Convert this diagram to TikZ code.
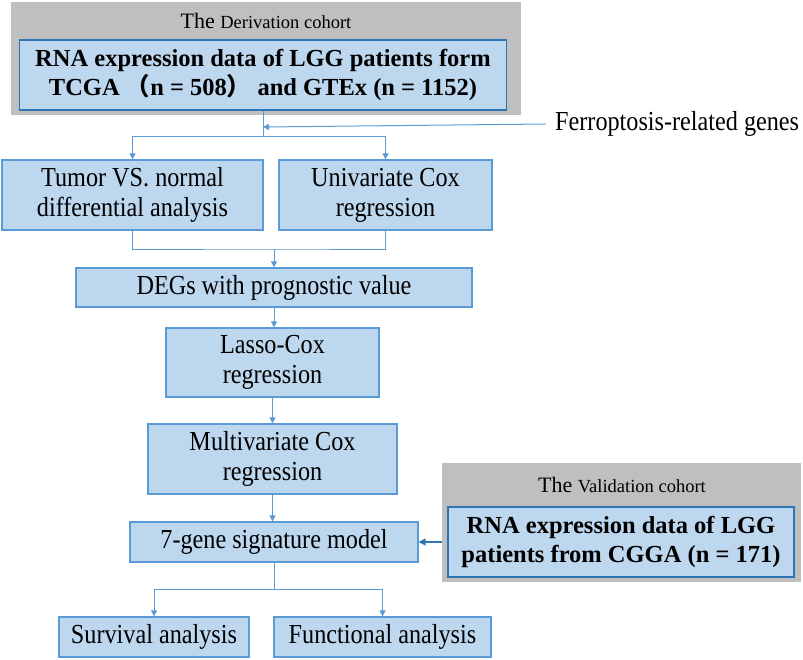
\documentclass[tikz,border=0pt]{standalone}
\usepackage{fontspec}
\setmainfont{Liberation Serif}
\newfontfamily\bodyfont{Liberation Serif}[FakeStretch=0.88]
\newfontfamily\cjk{Noto Sans CJK SC}
\usetikzlibrary{arrows.meta}
\definecolor{boxfill}{HTML}{BDD7EE}
\definecolor{boxline}{HTML}{5B9BD5}
\definecolor{darkline}{HTML}{2E75B6}
\definecolor{grayfill}{HTML}{BFBFBF}
\begin{document}
\begin{tikzpicture}[x=1pt,y=-1pt,
  box/.style={draw=boxline, line width=1.3pt, fill=boxfill, inner sep=0pt, align=center,
    font=\bodyfont\fontsize{27.5}{30}\selectfont},
  inbox/.style={box, draw=darkline, font=\rmfamily\bfseries\fontsize{24.5}{29}\selectfont},
  panel/.style={fill=grayfill, inner sep=0pt},
  head/.style={anchor=base, inner sep=0pt},
  conn/.style={draw=boxline, line width=1pt},
  arr/.style={conn, -{Triangle[length=6pt,width=6pt]}},
  varr/.style={draw=darkline, line width=1.6pt, -{Triangle[length=7pt,width=7pt]}}
]
\useasboundingbox (0,0) rectangle (803,659);

% derivation cohort panel
\node[panel, minimum width=510pt, minimum height=113pt] (dpanel) at (266,58.5) {};
\node[head] (dhead) at (266,28) {\fontsize{22}{22}\selectfont The \fontsize{18.5}{18.5}\selectfont Derivation cohort};
\node[inbox, minimum width=487pt, minimum height=70pt] (tcga) at (263,75)
  {RNA expression data of LGG patients form\\TCGA {\cjk （}n = 508{\cjk ）} and GTEx (n = 1152)};

% ferroptosis genes
\node[anchor=west, inner sep=9pt, font=\bodyfont\fontsize{27.5}{30}\selectfont] (ferro) at (546,124) {Ferroptosis-related genes};

% main flow
\node[box, minimum width=261pt, minimum height=70pt] (tumor) at (132.5,195) {Tumor VS. normal\\differential analysis};
\node[box, minimum width=213pt, minimum height=70pt] (univ) at (385.5,195) {Univariate Cox\\regression};
\node[box, minimum width=396pt, minimum height=39pt] (degs) at (274,287.5) {DEGs with prognostic value};
\node[box, minimum width=213pt, minimum height=69pt] (lasso) at (272.5,362.5) {Lasso-Cox\\regression};
\node[box, minimum width=249pt, minimum height=70pt] (multi) at (272.5,459) {Multivariate Cox\\regression};
\node[box, minimum width=288pt, minimum height=40pt] (gene) at (274,542) {7-gene signature model};
\node[box, minimum width=190pt, minimum height=40pt] (surv) at (154,637) {Survival analysis};
\node[box, minimum width=217pt, minimum height=40pt] (func) at (382.5,637) {Functional analysis};

% validation cohort panel
\node[panel, minimum width=359pt, minimum height=119pt] (vpanel) at (621.5,522.5) {};
\node[head] (vhead) at (622,492) {\fontsize{22}{22}\selectfont The \fontsize{18.5}{18.5}\selectfont Validation cohort};
\node[inbox, minimum width=346pt, minimum height=70pt] (cgga) at (621,542)
  {RNA expression data of LGG\\patients from CGGA (n = 171)};

% connectors
\coordinate (split1) at (263,136);
\coordinate (join1) at (263,127);
\coordinate (merge1) at (274,249);
\coordinate (split2) at (274,589);
\draw[conn] (tcga.south) -- (split1);
\draw[arr] (ferro.west) -- (join1);
\draw[arr] (split1) -| (tumor.north);
\draw[arr] (split1) -| (univ.north);
\draw[conn] (tumor.south) |- (merge1) -| (univ.south);
\draw[arr] (merge1) -- (degs.north);
\draw[arr] (degs.south) -- (degs.south |- lasso.north);
\draw[arr] (lasso.south) -- (lasso.south |- multi.north);
\draw[arr] (multi.south) -- (multi.south |- gene.north);
\draw[conn] (gene.south) -- (split2);
\draw[arr] (split2) -| (surv.north);
\draw[arr] (split2) -| (func.north);
\draw[varr] (gene.east -| vpanel.west) -- (gene.east);
\end{tikzpicture}
\end{document}
